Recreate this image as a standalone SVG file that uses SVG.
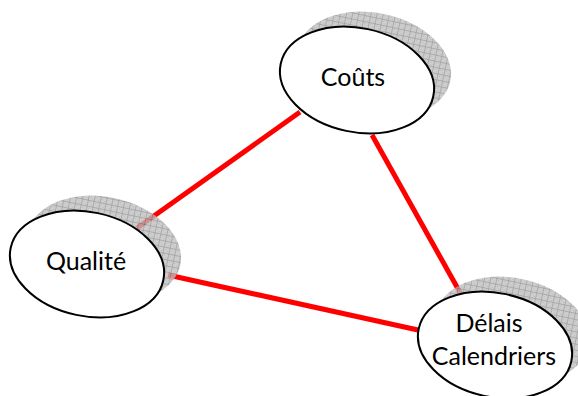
<svg xmlns="http://www.w3.org/2000/svg" width="578" height="396" viewBox="0 0 578 396">
<defs>
<pattern id="grid" width="6" height="6" patternUnits="userSpaceOnUse">
<rect width="6" height="6" fill="#c0c0c0"/>
<rect x="0" y="0" width="1" height="1" fill="#a8a8a8"/>
<rect x="2" y="2" width="1" height="1" fill="#a8a8a8"/>
<rect x="4" y="4" width="1" height="1" fill="#a8a8a8"/>
<path d="M0 0.5H6M0.5 0V6" stroke="#888" stroke-width="0.8"/>
</pattern>
<style>
.shadow{fill:url(#grid);opacity:0.78}
.node{fill:#fff;stroke:#000;stroke-width:2}
.lbl{font-family:"Lato","Liberation Sans",sans-serif;font-size:25px;fill:#000;text-anchor:middle}
.edge{stroke:#ff0000;stroke-width:5;fill:none}
</style>
</defs>
<g id="connectors">
<line class="edge" x1="300" y1="112" x2="137" y2="228"/>
<line class="edge" x1="372" y1="135" x2="462" y2="296"/>
<line class="edge" x1="168" y1="275" x2="418" y2="330"/>
</g>
<g id="couts">
<ellipse class="shadow" cx="374" cy="65" rx="78" ry="52" transform="rotate(12 374 65)"/>
<ellipse class="node" cx="357" cy="80" rx="78" ry="52" transform="rotate(12 357 80)"/>
<text class="lbl" x="353" y="86">Coûts</text>
</g>
<g id="qualite">
<ellipse class="shadow" cx="104" cy="249" rx="78" ry="52" transform="rotate(12 104 249)"/>
<ellipse class="node" cx="87" cy="264" rx="78" ry="52" transform="rotate(12 87 264)"/>
<text class="lbl" x="86" y="270">Qualité</text>
</g>
<g id="delais">
<ellipse class="shadow" cx="512" cy="330" rx="78" ry="52" transform="rotate(12 512 330)"/>
<ellipse class="node" cx="495" cy="345" rx="78" ry="52" transform="rotate(12 495 345)"/>
<text class="lbl" x="489" y="332">Délais</text>
<text class="lbl" x="494" y="365">Calendriers</text>
</g>
</svg>
